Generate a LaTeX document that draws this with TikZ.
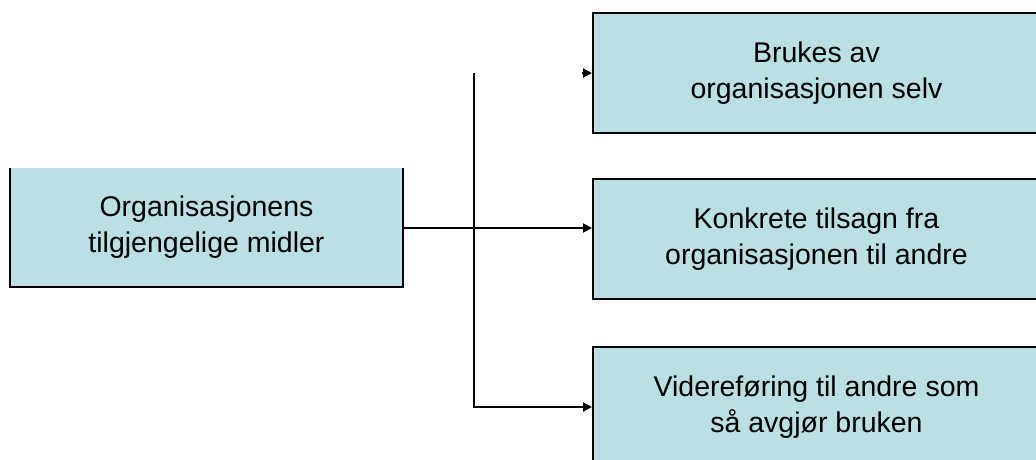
\documentclass[tikz,border=0pt]{standalone}
\usepackage{fontspec}
\setmainfont{Liberation Sans}
\usetikzlibrary{arrows.meta, calc, positioning}
\definecolor{boxfill}{RGB}{187,224,227}

\begin{document}
\begin{tikzpicture}[line cap=butt,line join=miter,>={Triangle[length=9pt,width=9pt]},x=1pt,y=-1pt,
  every node/.style={font=\fontsize{28.5}{36}\selectfont, align=center, inner sep=0pt},
  boks/.style={fill=boxfill, minimum height=120pt}]
% --- ramme ---
\useasboundingbox (0,0) rectangle (1036,459);
\clip (0,0) rectangle (1036,459);

% --- bokser ---
\node[boks, minimum width=393pt, minimum height=119pt] (midler) at (206.5,227.5) {Organisasjonens\\tilgjengelige midler};
\node[boks, draw, line width=2pt, minimum width=447pt] (selv) at (816.5,73) {Brukes av\\organisasjonen selv};
\node[boks, draw, line width=2pt, minimum width=447pt] (tilsagn) at (816.5,239) {Konkrete tilsagn fra\\organisasjonen til andre};
\node[boks, draw, line width=2pt, minimum width=447pt] (videre) at (816.5,407) {Videreføring til andre som\\så avgjør bruken};

% kant rundt venstre boks (uten topp)
\draw[line width=2pt] (midler.north west) |- (midler.south east) -- (midler.north east);

% --- forgrening ---
\coordinate (delt) at (474,228);

% --- piler ---
\draw[line width=2pt, ->] (midler.east |- delt) -- (delt -| tilsagn.west);
\draw[line width=2pt, ->] (delt |- selv.west) |- (videre.west);
\draw[line width=2pt, ->] ($(selv.west)+(-10,0)$) -- (selv.west);

\end{tikzpicture}
\end{document}
